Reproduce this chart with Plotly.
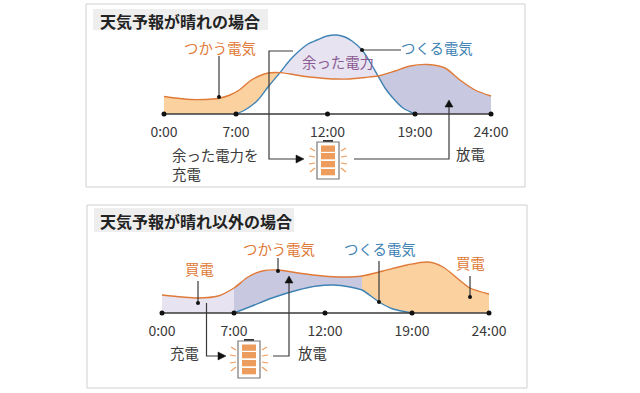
import plotly.graph_objects as go

FONT = "Noto Sans CJK JP"
ORANGE = "#e07a38"
BLUE = "#3f83b5"
PEACH = "#fbd19f"
LAVENDER = "#e7e3f0"
PERIWINKLE = "#c8c8e0"
DARK = "#3a3a3a"
W, H = 640, 393

# Axis units: schematic position along each time axis / generated or used power
tick_labels = ["0:00", "7:00", "12:00", "19:00", "24:00"]

sunny_ticks = [0, 72, 163.5, 251, 327]
sunny_use_x = [0, 11, 26, 41, 54, 66, 76, 86, 94, 104, 116, 126, 141, 156, 171, 186, 201, 214, 231, 246, 264, 281, 296, 311, 327]
sunny_use_y = [17.5, 16, 14.5, 14.5, 15.5, 19, 24.5, 33, 37.5, 41, 41.4, 40, 37.5, 36, 35, 35, 36.5, 38, 43, 48, 49.5, 46, 34, 24, 18]
sunny_make_x = [72, 81, 94, 104, 116, 126, 134, 144, 153, 163, 173, 181, 188, 198, 206, 214, 221, 228, 239, 251]
sunny_make_y = [0, 4, 14, 27, 41.4, 54, 62, 70, 74, 78, 79, 77, 73, 64, 52, 38, 26, 17, 6, 0]

other_ticks = [0, 72, 163, 250, 327]
other_use_x = [0, 20, 36, 56, 72, 86, 100, 116, 136, 161, 181, 200, 221, 245, 266, 281, 295, 308, 327]
other_use_y = [18, 16, 15, 17, 25, 36, 42, 43, 40, 37, 36, 37, 42, 48, 51, 46, 35, 25, 19]
other_make_x = [72, 90, 110, 136, 155, 171, 188, 200, 217, 231, 250]
other_make_y = [0, 7, 15, 23, 27, 28, 26, 23, 11, 4, 0]


def seg(xs, ys, lo, hi):
    pairs = [(x, y) for x, y in zip(xs, ys) if lo <= x <= hi]
    return [p[0] for p in pairs], [p[1] for p in pairs]


def poly(fig, xs, ys, color, ax):
    fig.add_trace(go.Scatter(x=xs, y=ys, mode="lines", fill="toself", fillcolor=color,
                             line=dict(width=0), hoverinfo="skip", showlegend=False,
                             xaxis=ax[0], yaxis=ax[1]))


def curve(fig, xs, ys, color, ax):
    fig.add_trace(go.Scatter(x=xs, y=ys, mode="lines", line=dict(color=color, width=1.4, shape="spline", smoothing=0.8),
                             hoverinfo="skip", showlegend=False, xaxis=ax[0], yaxis=ax[1]))


def baseline(fig, ticks, ax):
    fig.add_trace(go.Scatter(x=ticks, y=[0] * len(ticks), mode="lines+markers",
                             line=dict(color=DARK, width=1.4), marker=dict(color="#111111", size=5),
                             hoverinfo="skip", showlegend=False, xaxis=ax[0], yaxis=ax[1]))


fig = go.Figure()
A1 = ("x", "y")
A2 = ("x2", "y2")

# Sunny panel fills
ux, uy = seg(sunny_use_x, sunny_use_y, 0, 116)
mx, my = seg(sunny_make_x, sunny_make_y, 72, 116)
poly(fig, ux + mx[::-1] + [0], uy + my[::-1] + [0], PEACH, A1)
ux, uy = seg(sunny_use_x, sunny_use_y, 116, 214)
mx, my = seg(sunny_make_x, sunny_make_y, 116, 214)
poly(fig, mx + ux[::-1], my + uy[::-1], LAVENDER, A1)
ux, uy = seg(sunny_use_x, sunny_use_y, 214, 327)
mx, my = seg(sunny_make_x, sunny_make_y, 214, 251)
poly(fig, ux + [327] + mx[::-1], uy + [0] + my[::-1], PERIWINKLE, A1)

# Other panel fills
ux, uy = seg(other_use_x, other_use_y, 0, 72)
poly(fig, ux + [72, 0], uy + [0, 0], LAVENDER, A2)
ux, uy = seg(other_use_x, other_use_y, 72, 200)
mx, my = seg(other_make_x, other_make_y, 72, 200)
poly(fig, ux + mx[::-1], uy + my[::-1], PERIWINKLE, A2)
ux, uy = seg(other_use_x, other_use_y, 200, 327)
mx, my = seg(other_make_x, other_make_y, 200, 250)
poly(fig, ux + [327] + mx[::-1], uy + [0] + my[::-1], PEACH, A2)

curve(fig, sunny_make_x, sunny_make_y, BLUE, A1)
curve(fig, sunny_use_x, sunny_use_y, ORANGE, A1)
baseline(fig, sunny_ticks, A1)
curve(fig, other_make_x, other_make_y, BLUE, A2)
curve(fig, other_use_x, other_use_y, ORANGE, A2)
baseline(fig, other_ticks, A2)


def px(x):
    return x / W


def py(y):
    return 1 - y / H


shapes = []
annos = []


def rect(x0, y0, x1, y1, fill=None, line=None, lw=1, layer="above"):
    shapes.append(dict(type="rect", xref="paper", yref="paper", x0=px(x0), x1=px(x1), y0=py(y0), y1=py(y1),
                       fillcolor=fill or "rgba(0,0,0,0)", line=dict(color=line or "rgba(0,0,0,0)", width=lw if line else 0),
                       layer=layer))


def path(pts, color=DARK, lw=1.2, closed=False, fill=None):
    d = "M" + " L".join(f"{px(x):.5f},{py(y):.5f}" for x, y in pts) + (" Z" if closed else "")
    shapes.append(dict(type="path", xref="paper", yref="paper", path=d, line=dict(color=color, width=lw),
                       fillcolor=fill or "rgba(0,0,0,0)"))


def dot(x, y):
    r = 2
    shapes.append(dict(type="circle", xref="paper", yref="paper", x0=px(x - r), x1=px(x + r), y0=py(y + r), y1=py(y - r),
                       fillcolor="#111111", line=dict(width=0)))


def text(t, x, y, color=DARK, size=14.4, bold=False):
    annos.append(dict(text=f"<b>{t}</b>" if bold else t, xref="paper", yref="paper", x=px(x), y=py(y),
                      xanchor="center", yanchor="middle", showarrow=False,
                      font=dict(family=FONT, size=size, color=color)))


def arrow_right(x, y):
    path([(x, y), (x - 8, y - 4), (x - 8, y + 4)], "#111111", 0.5, True, "#111111")


def arrow_up(x, y):
    path([(x, y), (x - 4, y + 7), (x + 4, y + 7)], "#111111", 0.5, True, "#111111")


def battery(x, top):
    rect(x + 6, top - 2, x + 16, top + 1, fill="#333333")
    rect(x, top, x + 22, top + 37, fill="#ffffff", line="#777777", lw=1.2)
    for i, y in enumerate([3.5, 11, 19, 27]):
        rect(x + 4, top + y, x + 18, top + y + 6.3, fill="#ec9c5c")
    for sgn, bx in ((-1, x - 2), (1, x + 24)):
        path([(bx, top + 9), (bx + sgn * 5, top + 6)], "#ee9a5a", 1.1)
        path([(bx, top + 15), (bx + sgn * 6, top + 14)], "#ee9a5a", 1.1)
        path([(bx, top + 21), (bx + sgn * 6, top + 22)], "#ee9a5a", 1.1)
        path([(bx, top + 26), (bx + sgn * 5, top + 30)], "#ee9a5a", 1.1)


# Panel frames
rect(86, 4, 525, 187, line="#cfcfcf", lw=1, layer="below")
rect(87, 205, 527, 388, line="#cfcfcf", lw=1, layer="below")
rect(93, 9, 268, 30, fill="#eeeeee", layer="below")
rect(94, 208, 294, 232, fill="#eeeeee", layer="below")

text("天気予報が晴れの場合", 179.5, 21, "#222222", 16, True)
text("天気予報が晴れ以外の場合", 195.5, 221, "#222222", 16, True)

# Sunny annotations
text("つかう電気", 220, 47, ORANGE)
text("つくる電気", 436.5, 47.5, BLUE)
text("余った電力", 338, 62, "#8b5a92")
text("余った電力を", 215, 154)
text("充電", 186, 173)
text("放電", 470, 153)
path([(219, 56), (219, 97)]); dot(219, 97)
path([(362, 50), (401, 50)]); dot(362, 50)
path([(293, 51), (269, 51), (269, 159), (296, 159)])
arrow_right(304, 159)
battery(317, 142)
path([(354, 159), (449, 159), (449, 107)])
arrow_up(449, 100)

# Other annotations
text("買電", 199, 268, ORANGE)
text("つかう電気", 278.5, 248, ORANGE)
text("つくる電気", 380, 248, BLUE)
text("買電", 470, 262, ORANGE)
text("充電", 184, 352)
text("放電", 312.5, 352)
path([(198, 281), (198, 303)]); dot(198, 303)
path([(278, 258), (278, 271)]); dot(278, 271)
path([(379, 261), (379, 302)]); dot(379, 302)
path([(470, 276), (470, 297)]); dot(470, 297)
path([(206.5, 303), (206.5, 356), (218, 356)])
arrow_right(226, 356)
battery(238, 341)
path([(273, 356), (289, 356), (289, 283)])
arrow_up(289, 276)


def xaxis(origin, ticks, base):
    return dict(domain=[0, 1], range=[-origin, W - origin], tickmode="array", tickvals=ticks, ticktext=tick_labels,
                showgrid=False, zeroline=False, showline=False, ticks="outside", ticklen=5, tickcolor="rgba(0,0,0,0)",
                tickfont=dict(family=FONT, size=14, color=DARK), anchor="free", position=1 - base / H)


def yaxis(base):
    return dict(domain=[0, 1], range=[-(H - base), base], visible=False, fixedrange=True)


fig.update_layout(
    width=W, height=H, margin=dict(l=0, r=0, t=0, b=0), paper_bgcolor="white", plot_bgcolor="rgba(0,0,0,0)",
    showlegend=False, shapes=shapes, annotations=annos,
    xaxis=xaxis(164, sunny_ticks, 114), yaxis=yaxis(114),
    xaxis2=xaxis(162, other_ticks, 313), yaxis2=dict(yaxis(313), overlaying="y"),
)
fig.write_html("out.html", config={"displayModeBar": False},
               post_script="document.body.style.margin='0';document.documentElement.style.overflow='hidden';")
